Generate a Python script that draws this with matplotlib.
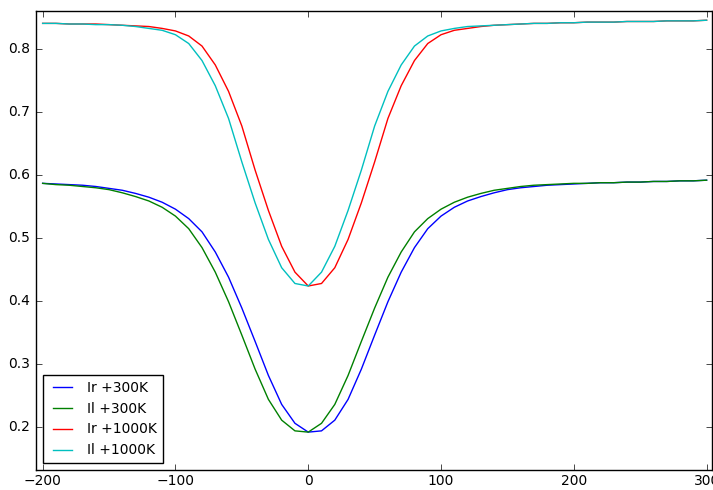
import matplotlib
matplotlib.use("Agg")
import matplotlib.pyplot as plt

x = list(range(-200, 301, 10))

ir_300 = [0.587, 0.586, 0.585, 0.584, 0.582, 0.579, 0.576, 0.571, 0.565, 0.557,
          0.546, 0.531, 0.510, 0.478, 0.438, 0.389, 0.336, 0.282, 0.236, 0.206,
          0.192, 0.194, 0.211, 0.244, 0.292, 0.346, 0.399, 0.446, 0.485, 0.515,
          0.535, 0.549, 0.559, 0.566, 0.572, 0.577, 0.580, 0.582, 0.584, 0.585,
          0.586, 0.587, 0.588, 0.588, 0.589, 0.589, 0.590, 0.590, 0.591, 0.591,
          0.592]
il_300 = [0.587, 0.585, 0.584, 0.582, 0.580, 0.577, 0.572, 0.566, 0.559, 0.549,
          0.535, 0.515, 0.485, 0.446, 0.399, 0.346, 0.292, 0.244, 0.211, 0.194,
          0.192, 0.206, 0.236, 0.282, 0.336, 0.389, 0.438, 0.478, 0.510, 0.531,
          0.546, 0.557, 0.565, 0.571, 0.576, 0.579, 0.582, 0.584, 0.585, 0.586,
          0.587, 0.587, 0.588, 0.588, 0.589, 0.589, 0.590, 0.590, 0.591, 0.591,
          0.592]
ir_1000 = [0.841, 0.841, 0.840, 0.840, 0.840, 0.839, 0.838, 0.837, 0.836, 0.833,
           0.829, 0.821, 0.805, 0.775, 0.733, 0.678, 0.608, 0.544, 0.487, 0.446,
           0.424, 0.428, 0.453, 0.498, 0.556, 0.621, 0.690, 0.742, 0.782, 0.809,
           0.823, 0.830, 0.833, 0.836, 0.838, 0.839, 0.840, 0.841, 0.841, 0.842,
           0.842, 0.843, 0.843, 0.843, 0.844, 0.844, 0.844, 0.845, 0.845, 0.845,
           0.846]
il_1000 = [0.841, 0.841, 0.840, 0.840, 0.839, 0.839, 0.838, 0.836, 0.833, 0.830,
           0.823, 0.809, 0.782, 0.742, 0.690, 0.621, 0.556, 0.498, 0.453, 0.428,
           0.424, 0.446, 0.487, 0.544, 0.608, 0.678, 0.733, 0.775, 0.805, 0.821,
           0.829, 0.833, 0.836, 0.837, 0.838, 0.839, 0.840, 0.841, 0.841, 0.842,
           0.842, 0.843, 0.843, 0.843, 0.844, 0.844, 0.844, 0.845, 0.845, 0.845,
           0.846]

plt.style.use('classic')
plt.rcParams['font.size'] = 10

fig = plt.figure(figsize=(7.13, 4.9), dpi=100, facecolor='white')
ax = fig.add_axes([0.0505, 0.041, 0.948, 0.937])

ax.plot(x, ir_300, 'b', label='Ir +300K')
ax.plot(x, il_300, 'g', label='Il +300K')
ax.plot(x, ir_1000, 'r', label='Ir +1000K')
ax.plot(x, il_1000, 'c', label='Il +1000K')

ax.set_xlim(-205, 304)
ax.set_ylim(0.132, 0.861)
ax.set_xticks([-200, -100, 0, 100, 200, 300])
ax.set_yticks([0.2, 0.3, 0.4, 0.5, 0.6, 0.7, 0.8])
ax.tick_params(axis='x', pad=3)
ax.legend(loc='lower left', fontsize=10)

fig.savefig('out.png', dpi=100, facecolor='white')
